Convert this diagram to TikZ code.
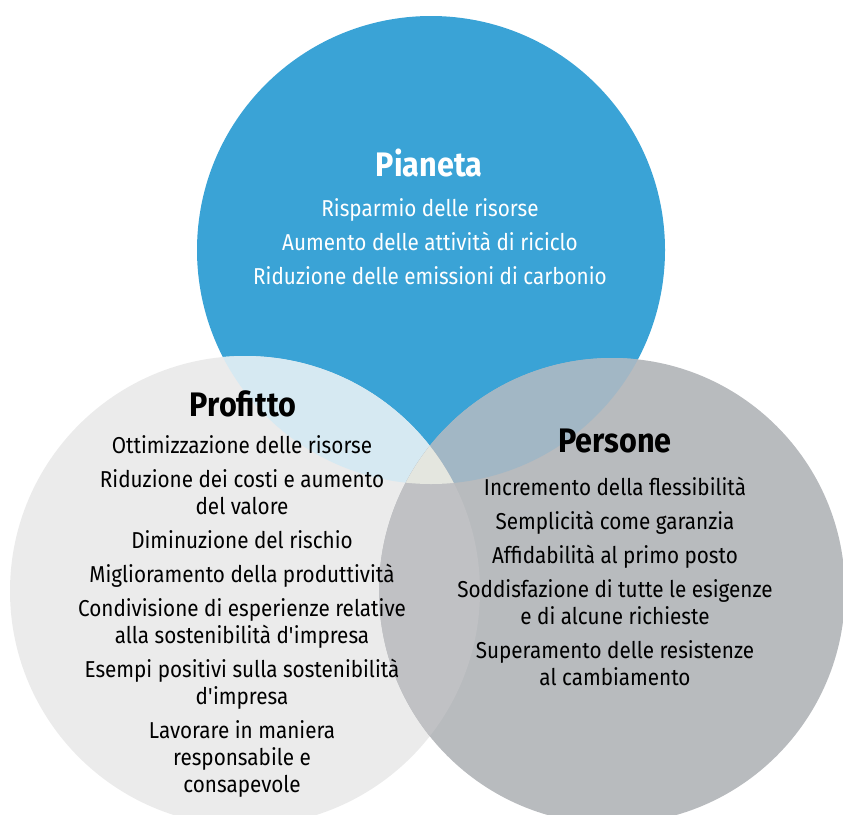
\documentclass[tikz,border=0pt]{standalone}
\usepackage{fontspec}
\setmainfont{Fira Sans}[FakeStretch=0.9]
\usetikzlibrary{positioning}

\definecolor{pianetablue}{RGB}{58,163,214}
\definecolor{profittogray}{RGB}{235,235,235}
\definecolor{personegray}{RGB}{184,187,190}
\definecolor{pianetaprofitto}{RGB}{214,233,242}
\definecolor{pianetapersone}{RGB}{162,183,197}
\definecolor{profittopersone}{RGB}{192,193,196}
\definecolor{centro}{RGB}{228,230,223}

\tikzset{
  titolo/.style={inner sep=0pt, font=\fontsize{34}{36}\selectfont\bfseries},
  voci/.style={inner sep=0pt, align=center, font=\fontsize{23}{27}\selectfont},
}

\begin{document}
\begin{tikzpicture}[x=1pt,y=-1pt]
    \useasboundingbox (0,0) rectangle (843,814);
    \clip (0,0) rectangle (843,814);
    % cerchi
    \fill[pianetablue] (431,250) circle (234pt);
    \fill[profittogray] (245,591) circle (235pt);
    \fill[personegray] (612,591) circle (233pt);
    % sovrapposizioni
    \begin{scope}
        \clip (431,250) circle (234pt);
        \fill[pianetaprofitto] (245,591) circle (235pt);
        \fill[pianetapersone] (612,591) circle (233pt);
    \end{scope}
    \begin{scope}
        \clip (245,591) circle (235pt);
        \fill[profittopersone] (612,591) circle (233pt);
        \clip (612,591) circle (233pt);
        \fill[centro] (431,250) circle (234pt);
    \end{scope}
    % Pianeta
    \node[titolo, white] (pianeta) at (429,163) {Pianeta};
    \node[voci, white, anchor=north] (pianetavoci) at (430,198)
        {Risparmio delle risorse\\[7pt]
         Aumento delle attività di riciclo\\[7pt]
         Riduzione delle emissioni di carbonio};
    % Profitto
    \node[titolo] (profitto) at (243,404) {Profitto};
    \node[voci, anchor=north] (profittovoci) at (242,435)
        {Ottimizzazione delle risorse\\[7pt]
         Riduzione dei costi e aumento\\del valore\\[7pt]
         Diminuzione del rischio\\[7pt]
         Miglioramento della produttività\\[7pt]
         Condivisione di esperienze relative\\alla sostenibilità d\textquotesingle impresa\\[7pt]
         Esempi positivi sulla sostenibilità\\d\textquotesingle impresa\\[7pt]
         Lavorare in maniera\\responsabile e\\consapevole};
    % Persone
    \node[titolo] (persone) at (615,441) {Persone};
    \node[voci, anchor=north] (personevoci) at (615,477)
        {Incremento della flessibilità\\[7pt]
         Semplicità come garanzia\\[7pt]
         Affidabilità al primo posto\\[7pt]
         Soddisfazione di tutte le esigenze\\e di alcune richieste\\[7pt]
         Superamento delle resistenze\\al cambiamento};
\end{tikzpicture}
\end{document}
